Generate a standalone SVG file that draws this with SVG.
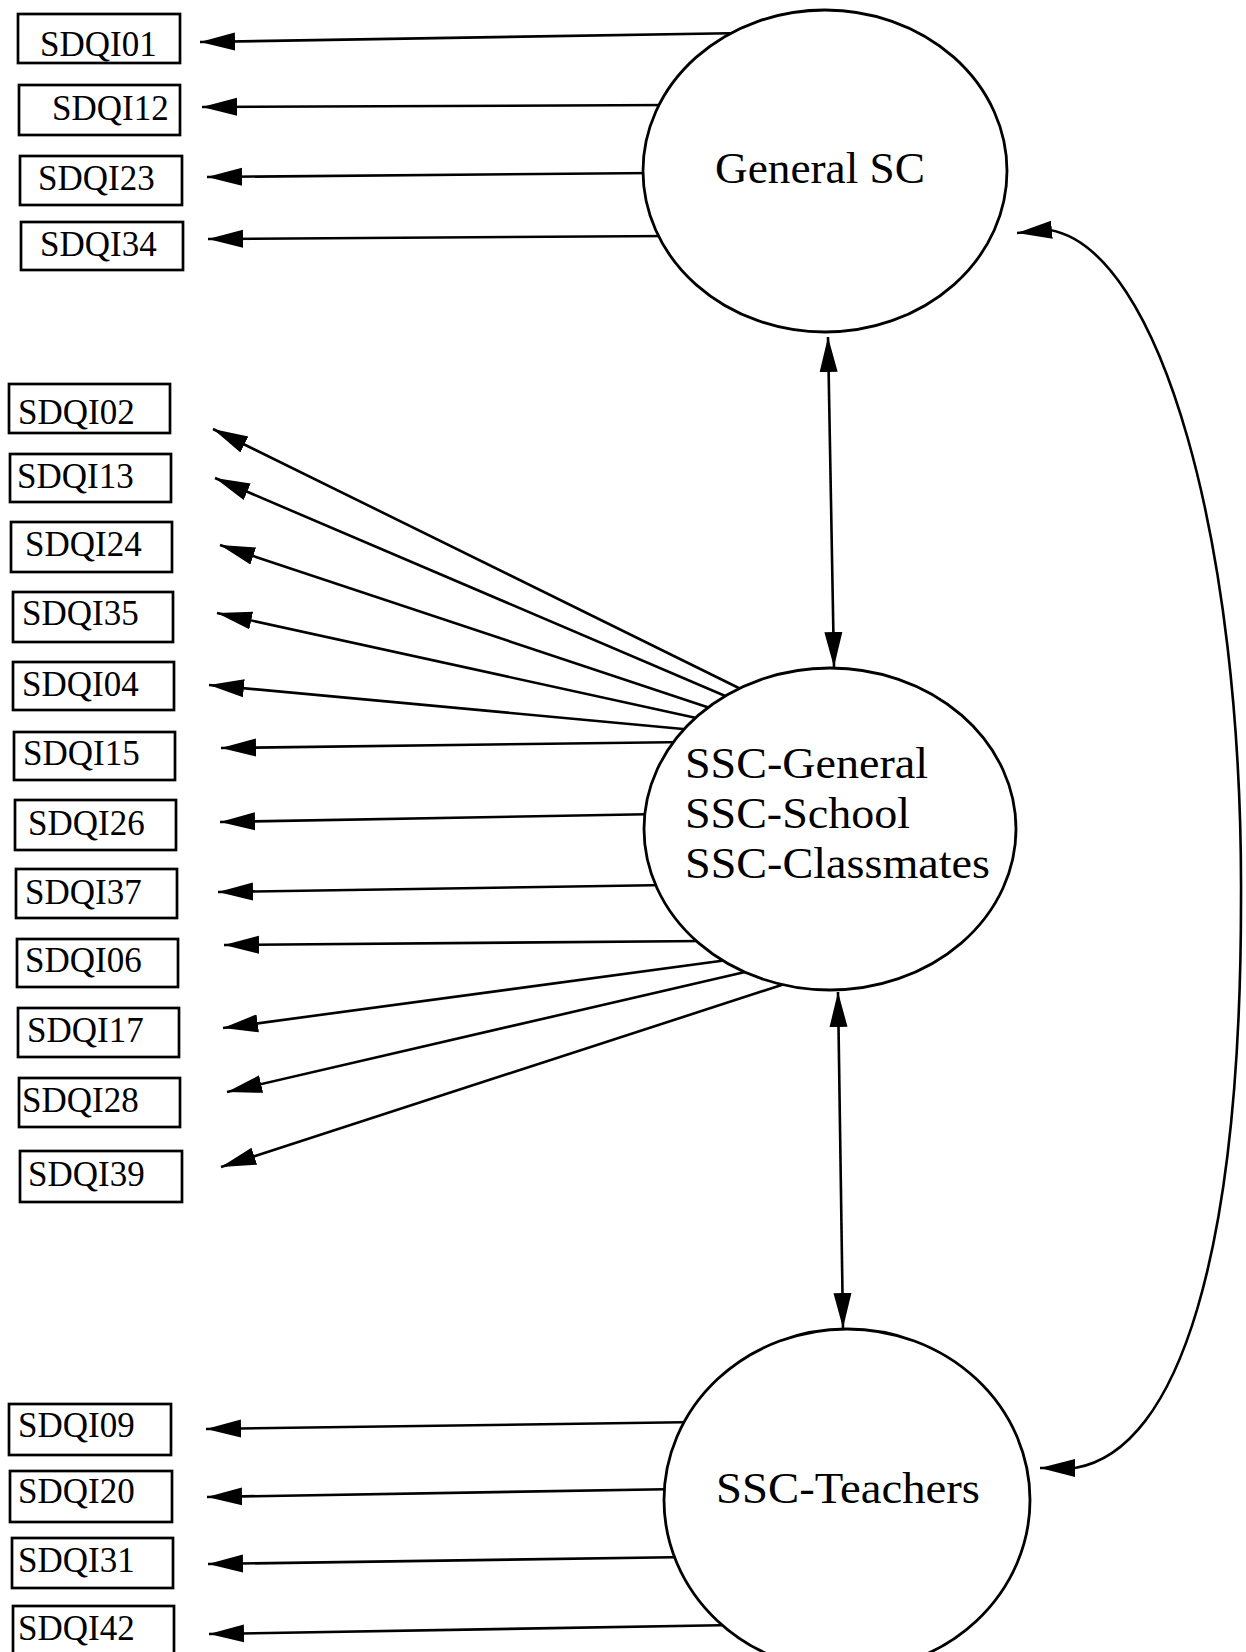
<svg xmlns="http://www.w3.org/2000/svg" width="1246" height="1652" viewBox="0 0 1246 1652">
<style>
.box{fill:#fff;stroke:#000;stroke-width:2.7}
.bt{font-family:"Liberation Serif","Times New Roman",serif;font-size:35px;fill:#000}
.lat{fill:#fff;stroke:#000;stroke-width:2.8}
.lt{font-family:"Liberation Serif","Times New Roman",serif;font-size:44px;fill:#000}
.c{fill:none;stroke:#000;stroke-width:2.6}
.s{marker-start:url(#ah)}
.e{marker-end:url(#ah)}
</style>
<defs>
<marker id="ah" viewBox="0 -10 36 20" refX="35" refY="0" markerWidth="36" markerHeight="20" markerUnits="userSpaceOnUse" orient="auto-start-reverse">
<path d="M0,-9 L35,0 L0,9 z" fill="#000"/>
</marker>
</defs>
<rect width="1246" height="1652" fill="#fff"/>
<g id="connectors">
<path class="c s" d="M200,42 L745,33"/>
<path class="c s" d="M202,107 L670,105"/>
<path class="c s" d="M207,177 L655,173"/>
<path class="c s" d="M208,239 L670,236"/>
<path class="c s" d="M213,429 L753,695"/>
<path class="c s" d="M215,478 L737,701"/>
<path class="c s" d="M220,545 L725,713"/>
<path class="c s" d="M217,613 L710,721"/>
<path class="c s" d="M209,685 L694,730"/>
<path class="c s" d="M221,748 L689,742"/>
<path class="c s" d="M220,822 L660,814"/>
<path class="c s" d="M218,892 L668,885"/>
<path class="c s" d="M224,945 L705,941"/>
<path class="c s" d="M223,1028 L735,959"/>
<path class="c s" d="M227,1092 L758,969"/>
<path class="c s" d="M221,1167 L797,980"/>
<path class="c s" d="M206,1429 L700,1422"/>
<path class="c s" d="M207,1497 L680,1489"/>
<path class="c s" d="M208,1564 L690,1557"/>
<path class="c s" d="M209,1634 L735,1625"/>
<path class="c s e" d="M828,337 L834,667"/>
<path class="c s e" d="M838,992 L843,1328"/>
<path class="c s e" d="M1017,233 L1050,230 C1160,250 1243,540 1241,900 C1241,1250 1180,1450 1075,1468 L1040,1468"/>
</g>
<g id="general-sc"><ellipse class="lat" cx="825" cy="171" rx="182" ry="161"/><text class="lt" x="715" y="183" textLength="210" lengthAdjust="spacingAndGlyphs">General SC</text></g>
<g id="ssc-mid"><ellipse class="lat" cx="830" cy="829" rx="186" ry="161"/>
<text class="lt" x="685" y="778" textLength="243" lengthAdjust="spacingAndGlyphs">SSC-General</text>
<text class="lt" x="685" y="828" textLength="225" lengthAdjust="spacingAndGlyphs">SSC-School</text>
<text class="lt" x="685" y="878" textLength="305" lengthAdjust="spacingAndGlyphs">SSC-Classmates</text></g>
<g id="ssc-teachers"><ellipse class="lat" cx="847" cy="1500" rx="183" ry="171"/><text class="lt" x="716" y="1503" textLength="264" lengthAdjust="spacingAndGlyphs">SSC-Teachers</text></g>
<g id="SDQI01"><rect class="box" x="18" y="14" width="162" height="49"/><text class="bt" x="40" y="56">SDQI01</text></g>
<g id="SDQI12"><rect class="box" x="19" y="85" width="161" height="50"/><text class="bt" x="52" y="120">SDQI12</text></g>
<g id="SDQI23"><rect class="box" x="20" y="156" width="162" height="49"/><text class="bt" x="38" y="190">SDQI23</text></g>
<g id="SDQI34"><rect class="box" x="21" y="222" width="162" height="48"/><text class="bt" x="40" y="256">SDQI34</text></g>
<g id="SDQI02"><rect class="box" x="9" y="384" width="161" height="49"/><text class="bt" x="18" y="424">SDQI02</text></g>
<g id="SDQI13"><rect class="box" x="10" y="454" width="161" height="48"/><text class="bt" x="17" y="488">SDQI13</text></g>
<g id="SDQI24"><rect class="box" x="11" y="522" width="161" height="50"/><text class="bt" x="25" y="556">SDQI24</text></g>
<g id="SDQI35"><rect class="box" x="13" y="592" width="160" height="50"/><text class="bt" x="22" y="625">SDQI35</text></g>
<g id="SDQI04"><rect class="box" x="13" y="662" width="161" height="48"/><text class="bt" x="22" y="696">SDQI04</text></g>
<g id="SDQI15"><rect class="box" x="14" y="732" width="161" height="48"/><text class="bt" x="23" y="765">SDQI15</text></g>
<g id="SDQI26"><rect class="box" x="15" y="800" width="161" height="50"/><text class="bt" x="28" y="835">SDQI26</text></g>
<g id="SDQI37"><rect class="box" x="16" y="869" width="161" height="49"/><text class="bt" x="25" y="904">SDQI37</text></g>
<g id="SDQI06"><rect class="box" x="17" y="939" width="161" height="48"/><text class="bt" x="25" y="972">SDQI06</text></g>
<g id="SDQI17"><rect class="box" x="18" y="1008" width="161" height="49"/><text class="bt" x="27" y="1042">SDQI17</text></g>
<g id="SDQI28"><rect class="box" x="19" y="1078" width="161" height="49"/><text class="bt" x="22" y="1112">SDQI28</text></g>
<g id="SDQI39"><rect class="box" x="20" y="1151" width="162" height="51"/><text class="bt" x="28" y="1186">SDQI39</text></g>
<g id="SDQI09"><rect class="box" x="9" y="1404" width="162" height="51"/><text class="bt" x="18" y="1437">SDQI09</text></g>
<g id="SDQI20"><rect class="box" x="10" y="1471" width="162" height="51"/><text class="bt" x="18" y="1503">SDQI20</text></g>
<g id="SDQI31"><rect class="box" x="12" y="1538" width="161" height="50"/><text class="bt" x="18" y="1572">SDQI31</text></g>
<g id="SDQI42"><rect class="box" x="13" y="1606" width="161" height="50"/><text class="bt" x="18" y="1640">SDQI42</text></g>
</svg>
